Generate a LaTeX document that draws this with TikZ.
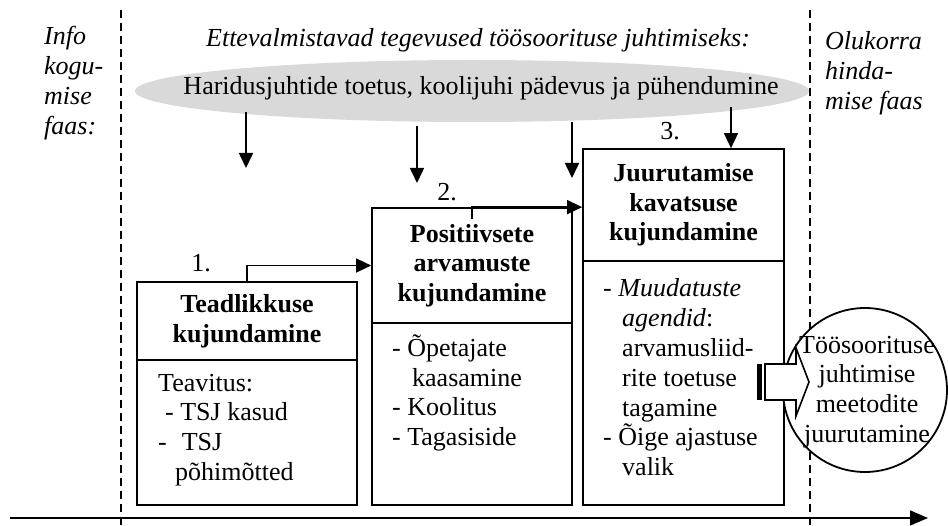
\documentclass[tikz,border=0pt]{standalone}
\usepackage{fontspec}
\setmainfont{Liberation Serif}
\usetikzlibrary{arrows.meta,shapes.geometric,calc}

\begin{document}
\begin{tikzpicture}[x=1pt,y=-1pt,
  lbl/.style={inner sep=0pt, font=\fontsize{26}{29.8}\selectfont, align=left},
  ttl/.style={inner sep=0pt, font=\fontsize{26}{29.5}\selectfont\bfseries, align=center},
  phase/.style={inner sep=0pt, font=\fontsize{26}{30}\selectfont\itshape, align=left},
  panel/.style={draw, line width=1.7pt, inner sep=0pt},
  arr/.style={line width=1.6pt, -{Triangle[length=15pt,width=14pt]}},
  divider/.style={dash pattern=on 8pt off 5pt, line width=1.6pt},
  axisline/.style={line width=1.6pt, -{Triangle[length=18pt,width=15pt]}}
]
\useasboundingbox (0,0) rectangle (948,526);

% phase separators and time axis
\coordinate (d1a) at (121,10);  \coordinate (d1b) at (121,526);
\coordinate (d2a) at (810,10);  \coordinate (d2b) at (810,526);
\draw[divider] (d1a) -- (d1b);
\draw[divider] (d2a) -- (d2b);
\coordinate (t0) at (10,518);   \coordinate (t1) at (928,518);
\draw[axisline] (t0) -- (t1);

% phase captions
\node[phase, anchor=west] (pinfo) at (44,83) {Info\\kogu-\\mise\\faas:};
\node[phase, anchor=west] (peval) at (825,73) {Olukorra\\hinda-\\mise faas};
\node[phase, align=center] (pprep) at (478,40) {Ettevalmistavad tegevused töösoorituse juhtimiseks:};

% supporting conditions
\node[ellipse, fill=gray!30, minimum width=674pt, minimum height=62pt, inner sep=0pt] (ell) at (472,91) {};
\node[lbl] (elltxt) at (481,88) {Haridusjuhtide toetus, koolijuhi pädevus ja pühendumine};

% influence arrows from the supporting conditions
\coordinate (a1s) at (246,112); \coordinate (a1e) at (246,168);
\coordinate (a2s) at (417,126); \coordinate (a2e) at (417,183);
\coordinate (a3s) at (572,122); \coordinate (a3e) at (572,178);
\coordinate (a4s) at (731,107);
\draw[arr] (a1s) -- (a1e);
\draw[arr] (a2s) -- (a2e);
\draw[arr] (a3s) -- (a3e);

% stage 1
\node[panel, minimum width=220pt, minimum height=78pt, ttl] (b1h) at (247,321) {Teadlikkuse\\kujundamine};
\node[panel, minimum width=220pt, minimum height=145pt] (b1b) at (247,432.5) {};
\node[lbl, anchor=west] (b1t) at (158,430) {Teavitus:\\\hspace*{7pt}- TSJ kasud\\-\hspace*{15pt}TSJ\\\hspace*{17pt}põhimõtted};
\node[lbl] (n1) at (201,263) {1.};

% stage 2
\node[panel, minimum width=200pt, minimum height=115pt, ttl] (b2h) at (472,265.5) {Positiivsete\\arvamuste\\kujundamine};
\node[panel, minimum width=200pt, minimum height=182pt] (b2b) at (472,414) {};
\node[lbl, anchor=west] (b2t) at (392,393) {- Õpetajate\\\hspace*{20pt}kaasamine\\- Koolitus\\- Tagasiside};
\node[lbl] (n2) at (447,192) {2.};

% stage 3
\node[panel, minimum width=201pt, minimum height=112pt, ttl] (b3h) at (683.5,205) {Juurutamise\\kavatsuse\\kujundamine};
\node[panel, minimum width=201pt, minimum height=244pt] (b3b) at (683.5,383) {};
\node[lbl, anchor=west] (b3t) at (603,377.5) {- \textit{Muudatuste}\\\hspace*{19pt}\textit{agendid}:\\\hspace*{19pt}arvamusliid-\\\hspace*{19pt}rite toetuse\\\hspace*{19pt}tagamine\\- Õige ajastuse\\\hspace*{19pt}valik};
\node[lbl] (n3) at (670,131) {3.};
\draw[arr] (a4s) -- (a4s |- b3h.north);

% transitions between stages
\draw[arr] (b1h.north) |- (b2h.west);
\draw[arr] ($(b2h.north)+(0,12)$) -- (b2h.north) -- (b2h.north -| b3h.west);

% outcome
\node[circle, draw, fill=white, line width=1.8pt, minimum size=164pt, inner sep=0pt] (goal) at (865,390) {};
\fill (757,364) rectangle (761.5,400);
\draw[line width=1.6pt, fill=white, line join=miter]
  (765,364) -- (796,364) -- (796,348) -- (809,382) -- (796,416) -- (796,400) -- (765,400) -- cycle;
\node[lbl, align=center] (goaltxt) at (867,392) {Töösoorituse\\juhtimise\\meetodite\\juurutamine};

\end{tikzpicture}
\end{document}
